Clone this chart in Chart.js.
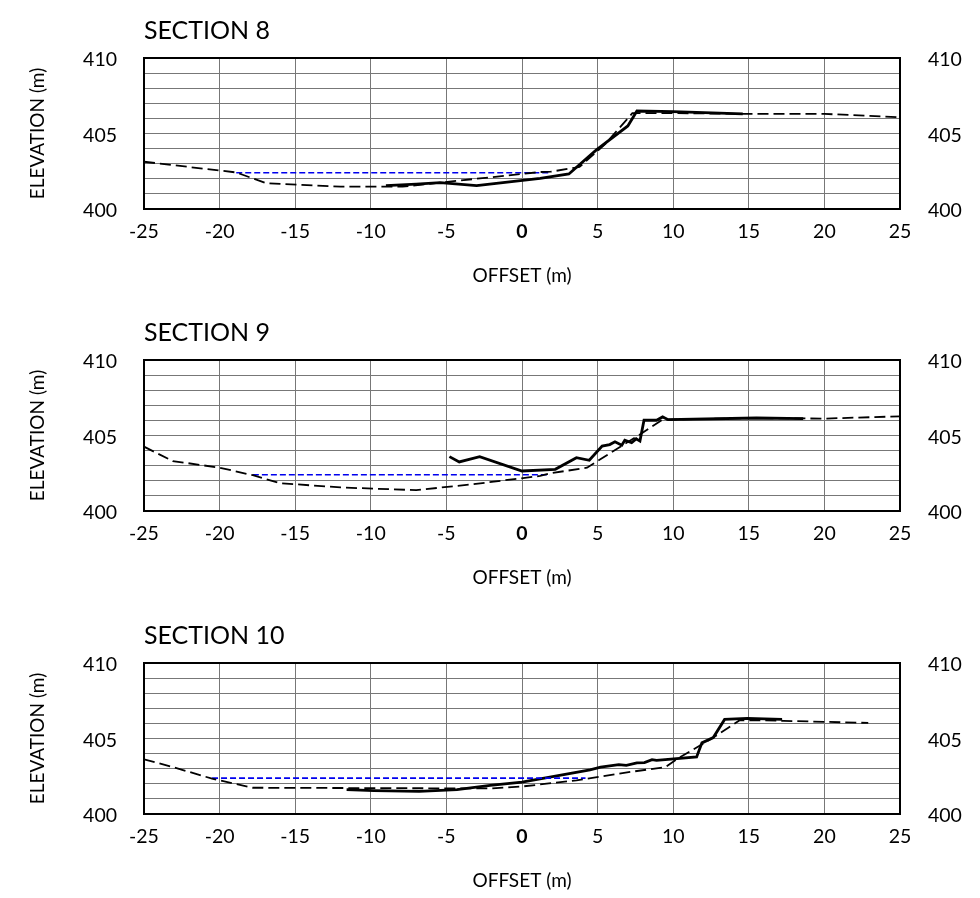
<!DOCTYPE html>
<html><head><meta charset="utf-8">
<script src="https://cdn.jsdelivr.net/npm/chart.js@4/dist/chart.umd.min.js"></script>
<style>
html,body{margin:0;padding:0;background:#fff;overflow:hidden;}
#wrap{position:relative;width:980px;height:898px;}
canvas{position:absolute;left:0;}
</style></head><body>
<div id="wrap">
<canvas id="c8" width="980" height="302" style="top:0px"></canvas>
<canvas id="c9" width="980" height="302" style="top:302px"></canvas>
<canvas id="c10" width="980" height="302" style="top:605px"></canvas>
</div>
<script>
// ---- data ----
const titles = ['SECTION 8', 'SECTION 9', 'SECTION 10'];
const xMin = -25, xMax = 25, xStep = 5;
const yMin = 400, yMax = 410, yStep = 1, yLabelStep = 5;

// Section 8
const s8DashX = [-25, -18.9, -16.9, -12.0, -7.9, 1.2, 1.9, 3.8, 5.5, 7.3, 10, 14.6, 20, 25];
const s8DashY = [403.13, 402.42, 401.70, 401.48, 401.48, 402.45, 402.47, 402.78, 404.3, 406.35, 406.35, 406.3, 406.3, 406.07];
const s8SolidX = [-9.0, -7.0, -5.4, -3.0, 1.2, 3.1, 4.9, 7.0, 7.6, 10, 14.6];
const s8SolidY = [401.55, 401.65, 401.75, 401.55, 402.03, 402.32, 403.9, 405.5, 406.49, 406.45, 406.3];
const s8WaterX = [-18.9, 1.85];
const s8WaterY = [402.4, 402.4];

// Section 9
const s9DashX = [-25, -23.1, -20.0, -17.8, -16.0, -12.0, -7.0, -3.2, 1.2, 1.9, 4.3, 7.8, 9.3, 15, 20, 25];
const s9DashY = [404.26, 403.31, 402.87, 402.37, 401.84, 401.56, 401.38, 401.78, 402.32, 402.5, 402.87, 405.07, 406.05, 406.15, 406.12, 406.27];
const s9SolidX = [-4.8, -4.15, -2.8, 0, 2.2, 3.6, 4.45, 5.3, 5.8, 6.15, 6.6, 6.8, 7.25, 7.55, 7.8, 8.07, 8.9, 9.3, 9.67, 15.5, 18.6];
const s9SolidY = [403.6, 403.25, 403.6, 402.65, 402.76, 403.53, 403.36, 404.3, 404.4, 404.58, 404.36, 404.69, 404.52, 404.78, 404.63, 406.01, 406.01, 406.23, 406.05, 406.16, 406.12];
const s9WaterX = [-17.8, 1.85];
const s9WaterY = [402.4, 402.4];

// Section 10
const s10DashX = [-25, -23.1, -20.5, -17.8, -2.1, 0, 3.6, 7.4, 9.5, 10.3, 11.8, 12.9, 14.4, 16.0, 17.3, 22.9];
const s10DashY = [403.62, 403.11, 402.34, 401.74, 401.69, 401.82, 402.23, 402.82, 403.11, 403.67, 404.55, 405.22, 406.21, 406.21, 406.17, 406.03];
const s10SolidX = [-11.6, -9.8, -6.8, -4.3, -2.1, 0, 4.5, 5.2, 6.4, 6.9, 7.6, 8.1, 8.6, 8.9, 11.55, 11.9, 12.65, 13.4, 14.9, 17.2];
const s10SolidY = [401.61, 401.55, 401.5, 401.61, 401.89, 402.11, 402.93, 403.11, 403.27, 403.22, 403.38, 403.4, 403.6, 403.55, 403.78, 404.71, 405.06, 406.26, 406.33, 406.26];
const s10WaterX = [-20.5, 4.2];
const s10WaterY = [402.38, 402.38];

// ---- drawing ----
const FAM = 'Lato, Carlito, "Open Sans", sans-serif';
const GRID = '#777777';
const TICK_SIZE = 19.5;
const AXT_SIZE = 19;

function pts(xs, ys) { return xs.map((x, i) => ({x: x, y: ys[i]})); }

function makeChart(id, title, dX, dY, sX, sY, wX, wY) {
  new Chart(document.getElementById(id), {
    type: 'line',
    data: {
      datasets: [
        {data: pts(dX, dY), borderColor: '#000', borderWidth: 1.8, borderDash: [11, 5], pointRadius: 0, tension: 0, fill: false},
        {data: pts(wX, wY), borderColor: '#0000EE', borderWidth: 1.7, borderDash: [6, 3], pointRadius: 0, tension: 0, fill: false},
        {data: pts(sX, sY), borderColor: '#000', borderWidth: 2.8, pointRadius: 0, tension: 0, fill: false}
      ]
    },
    options: {
      responsive: false,
      animation: false,
      layout: {padding: 0},
      plugins: {
        legend: {display: false},
        tooltip: {enabled: false},
        title: {
          display: true, text: title, align: 'start', fullSize: false,
          color: '#000', font: {family: FAM, size: 25, weight: 'normal', lineHeight: 1.2},
          padding: {top: 16, bottom: 12}
        }
      },
      scales: {
        x: {
          type: 'linear', position: 'bottom', min: xMin, max: xMax,
          afterFit: s => { s.height = 93; },
          grid: {color: GRID, lineWidth: 1, drawTicks: false},
          border: {color: '#000', width: 2},
          ticks: {stepSize: xStep, padding: 11.5, color: '#000',
            font: c => ({family: FAM, size: TICK_SIZE, weight: (c.tick && c.tick.value === 0) ? 'bold' : 'normal'})},
          title: {display: true, text: 'OFFSET (m)', color: '#000', font: {family: FAM, size: AXT_SIZE, lineHeight: 1.2}, padding: {top: 0, bottom: 15}}
        },
        xTop: {
          type: 'linear', position: 'top', min: xMin, max: xMax,
          afterFit: s => { s.height = 0; },
          grid: {display: false, drawTicks: false},
          border: {display: true, color: '#000', width: 2},
          ticks: {display: false}
        },
        y: {
          type: 'linear', position: 'left', min: yMin, max: yMax,
          afterFit: s => { s.width = 144; },
          grid: {color: GRID, lineWidth: 1, drawTicks: false},
          border: {color: '#000', width: 2},
          ticks: {stepSize: yStep, padding: 27, labelOffset: 2, color: '#000', autoSkip: false,
            font: {family: FAM, size: TICK_SIZE},
            callback: v => (v % yLabelStep === 0 ? String(v) : '')},
          title: {display: true, text: 'ELEVATION (m)', color: '#000', font: {family: FAM, size: AXT_SIZE, lineHeight: 1.2}, padding: {top: 26, bottom: 0}}
        },
        yRight: {
          type: 'linear', position: 'right', min: yMin, max: yMax,
          afterFit: s => { s.width = 80; },
          grid: {display: false, drawTicks: false},
          border: {color: '#000', width: 2},
          ticks: {stepSize: yStep, padding: 28, labelOffset: 2, color: '#000', autoSkip: false,
            font: {family: FAM, size: TICK_SIZE},
            callback: v => (v % yLabelStep === 0 ? String(v) : '')}
        }
      }
    }
  });
}

makeChart('c8', titles[0], s8DashX, s8DashY, s8SolidX, s8SolidY, s8WaterX, s8WaterY);
makeChart('c9', titles[1], s9DashX, s9DashY, s9SolidX, s9SolidY, s9WaterX, s9WaterY);
makeChart('c10', titles[2], s10DashX, s10DashY, s10SolidX, s10SolidY, s10WaterX, s10WaterY);
</script>
</body></html>
